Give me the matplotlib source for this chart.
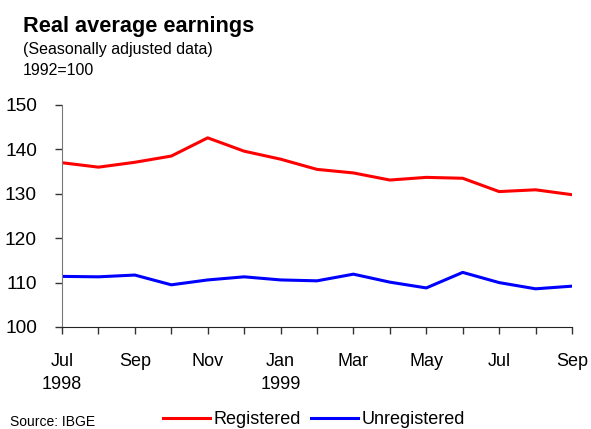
import matplotlib
matplotlib.use("Agg")
import matplotlib.pyplot as plt
import numpy as np

plt.rcParams['font.family'] = ['Liberation Sans', 'DejaVu Sans']

# meses de jul/1998 a set/1999
meses = ["Jul\n1998", "Aug", "Sep", "Oct", "Nov", "Dec", "Jan\n1999", "Feb",
         "Mar", "Apr", "May", "Jun", "Jul", "Aug", "Sep"]

registrados = [137.0, 136.0, 137.1, 138.5, 142.6, 139.6, 137.8, 135.5,
               134.7, 133.1, 133.7, 133.5, 130.5, 130.9, 129.8]
nao_registrados = [111.4, 111.3, 111.7, 109.5, 110.6, 111.3, 110.6, 110.4,
                   111.9, 110.1, 108.8, 112.3, 110.0, 108.6, 109.2]

y_ticks = [100, 110, 120, 130, 140, 150]

x = np.arange(len(meses))

fig = plt.figure(figsize=(5.91, 4.29), dpi=100)
ax = fig.add_axes([62/591, 1-327/429, (572-62)/591, (327-105)/429])

ax.plot(x, registrados, color="#ff0000", lw=2.2, label="Registered")
ax.plot(x, nao_registrados, color="#0000ff", lw=2.2, label="Unregistered")

ax.set_xlim(0, len(meses)-1)
ax.set_ylim(100, 150)
ax.set_yticks(y_ticks)
ax.set_yticklabels([str(v) for v in y_ticks])

# rotulos so nos meses impares
ax.set_xticks(x)
ax.set_xticklabels([m if i % 2 == 0 else "" for i, m in enumerate(meses)],
                   linespacing=1.45)

ax.tick_params(axis="both", length=5, width=1, colors="#333333",
               labelcolor="black")
ax.tick_params(axis="x", pad=14, labelsize=13)
ax.tick_params(axis="y", pad=13, labelsize=13.8)
for lbl in ax.get_xticklabels():
    lbl.set_verticalalignment("top")

ax.spines["top"].set_visible(False)
ax.spines["right"].set_visible(False)
ax.spines["left"].set_color("#777777")
ax.spines["bottom"].set_color("#222222")

# titulos
fig.text(23/591, 1-32/429, "Real average earnings", fontsize=15.7,
         fontweight="bold", va="baseline")
fig.text(23/591, 1-54/429, "(Seasonally adjusted data)", fontsize=11.5,
         va="baseline")
fig.text(23/591, 1-75/429, "1992=100", fontsize=11.5, va="baseline")

fig.text(10/591, 3/429, "Source: IBGE", fontsize=10, va="baseline")

fig.legend(loc="center", bbox_to_anchor=(314/591, 9/429), ncol=2,
           frameon=False, fontsize=13, handlelength=2.6, handletextpad=0.2,
           columnspacing=0.6, borderpad=0)

fig.savefig("out.png", dpi=100)
